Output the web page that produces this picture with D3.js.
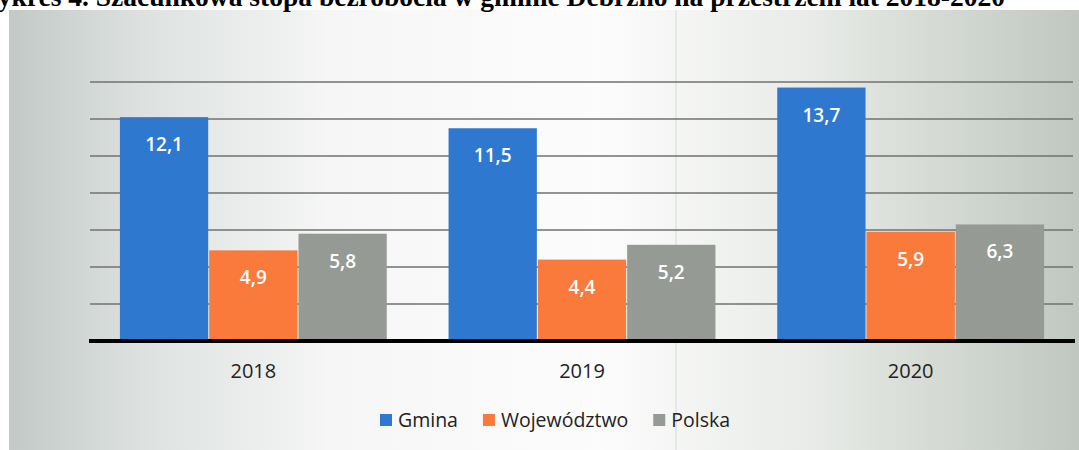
<!DOCTYPE html>
<html>
<head>
<meta charset="utf-8">
<script src="https://cdn.jsdelivr.net/npm/d3@7"></script>
<style>
  body { margin: 0; background: #fff; }
  svg { display: block; }
</style>
</head>
<body>
<div id="chart"></div>
<script>
var width = 1079
var height = 450

var YEARS = ["2018", "2019", "2020"]
var SERIES = ["Gmina", "Województwo", "Polska"]
var GMINA = [12.1, 11.5, 13.7]
var WOJEWODZTWO = [4.9, 4.4, 5.9]
var POLSKA = [5.8, 5.2, 6.3]
var Y_TICKS = [0, 2, 4, 6, 8, 10, 12, 14]
var TITLE = "Wykres 4. Szacunkowa stopa bezrobocia w gminie Debrzno na przestrzeni lat 2018-2020"

var COLORS = ["#2f78cf", "#f97a3b", "#969a95"]
var VALUES = [GMINA, WOJEWODZTWO, POLSKA]

var svg = d3.select("#chart")
    .append("svg")
    .attr("width", width)
    .attr("height", height)

// scanned page background
var defs = svg.append("defs")
var grad = defs.append("linearGradient")
    .attr("id", "bg")
    .attr("x1", "0%").attr("x2", "100%")
    .attr("y1", "0%").attr("y2", "0%")
grad.append("stop").attr("offset", "0%").attr("stop-color", "#c3c9c6")
grad.append("stop").attr("offset", "12%").attr("stop-color", "#dce1df")
grad.append("stop").attr("offset", "30%").attr("stop-color", "#f5f6f5")
grad.append("stop").attr("offset", "55%").attr("stop-color", "#fcfcfc")
grad.append("stop").attr("offset", "75%").attr("stop-color", "#e8ebe7")
grad.append("stop").attr("offset", "100%").attr("stop-color", "#c0c7c0")

svg.append("rect")
    .attr("x", 9)
    .attr("y", 10)
    .attr("width", width - 9)
    .attr("height", height - 10)
    .attr("fill", "url(#bg)")

// fold line from the scan
svg.append("line")
    .attr("x1", 676).attr("x2", 676)
    .attr("y1", 10).attr("y2", height)
    .attr("stroke", "#d4dadc")
    .attr("stroke-width", 1)

// title, cut by the top edge as in the scan
svg.append("text")
    .attr("x", 1005)
    .attr("y", 6)
    .attr("text-anchor", "end")
    .style("font-family", "'Liberation Serif', 'Times New Roman', serif")
    .style("font-weight", "bold")
    .style("font-size", "27.5px")
    .attr("fill", "#000")
    .text(TITLE)

var x0 = d3.scaleBand()
    .domain(YEARS)
    .range([89, 1075])
    .paddingInner(0.185)
    .paddingOuter(0.0925)

var x1 = d3.scaleBand()
    .domain(SERIES)
    .range([0, x0.bandwidth()])

var y = d3.scaleLinear()
    .domain([0, 14])
    .range([341, 82])

// gridlines
svg.append("g")
    .selectAll("line")
    .data(Y_TICKS.filter(d => d > 0))
    .enter()
    .append("line")
    .attr("x1", 90)
    .attr("x2", 1073)
    .attr("y1", d => y(d))
    .attr("y2", d => y(d))
    .attr("stroke", "#6f7270")
    .attr("stroke-width", 1.5)

// bars
var groups = svg.append("g")
    .selectAll("g")
    .data(YEARS)
    .enter()
    .append("g")
    .attr("transform", d => "translate(" + x0(d) + ",0)")

groups.selectAll("rect")
    .data((year, i) => SERIES.map((s, j) => ({ s: s, j: j, v: VALUES[j][i] })))
    .enter()
    .append("rect")
    .attr("x", d => x1(d.s) + 0.5)
    .attr("width", x1.bandwidth() - 1)
    .attr("y", d => y(d.v))
    .attr("height", d => y(0) - y(d.v))
    .attr("fill", d => COLORS[d.j])

groups.selectAll("text")
    .data((year, i) => SERIES.map((s, j) => ({ s: s, j: j, v: VALUES[j][i] })))
    .enter()
    .append("text")
    .attr("x", d => x1(d.s) + x1.bandwidth() / 2)
    .attr("y", d => y(d.v) + 34)
    .attr("text-anchor", "middle")
    .style("font-family", "'Open Sans', sans-serif")
    .style("font-weight", "600")
    .style("font-size", "19px")
    .attr("fill", "#fff")
    .text(d => d3.format(".1f")(d.v).replace(".", ","))

// x axis
var xAxis = svg.append("g")
    .attr("transform", "translate(0," + y(0) + ")")
    .call(d3.axisBottom(x0).tickSize(0).tickPadding(23))

xAxis.select(".domain")
    .attr("d", "M89,0H1075")
    .attr("stroke", "#000")
    .attr("stroke-width", 4)

xAxis.selectAll("text")
    .style("font-family", "'Open Sans', sans-serif")
    .style("font-size", "20px")
    .attr("fill", "#222")

// legend
var legend = svg.append("g")
var lx = 0
SERIES.forEach(function(s, i){
    var item = legend.append("g").attr("transform", "translate(" + lx + ",0)")
    item.append("rect")
        .attr("x", 0)
        .attr("y", -13)
        .attr("width", 12)
        .attr("height", 12)
        .attr("fill", COLORS[i])
    var t = item.append("text")
        .attr("x", 18)
        .attr("y", 0)
        .style("font-family", "'Open Sans', sans-serif")
        .style("font-size", "19.5px")
        .attr("fill", "#222")
        .text(s)
    lx += 18 + t.node().getComputedTextLength() + 25
})
var legendWidth = lx - 25
legend.attr("transform", "translate(" + (555 - legendWidth / 2) + ",427)")
</script>
</body>
</html>
